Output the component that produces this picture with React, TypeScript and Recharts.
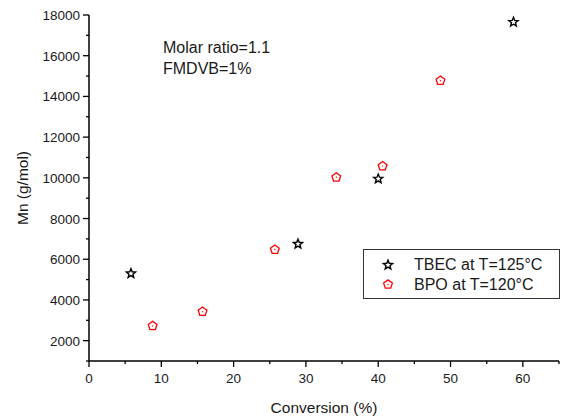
import { ScatterChart, Scatter, XAxis, YAxis } from "recharts";

// conversion (%) vs Mn (g/mol)
const TBEC_X = [5.8, 28.9, 40.0, 58.7];
const TBEC_Y = [5300, 6750, 9950, 17650];
const BPO_X = [8.8, 15.7, 25.7, 34.2, 40.6, 48.6];
const BPO_Y = [2750, 3450, 6500, 10050, 10600, 14800];

const X_TICKS = [0, 5, 10, 15, 20, 25, 30, 35, 40, 45, 50, 55, 60, 65];
const Y_TICKS = [1000, 2000, 3000, 4000, 5000, 6000, 7000, 8000, 9000, 10000, 11000, 12000, 13000, 14000, 15000, 16000, 17000, 18000];

const tbec = TBEC_X.map((x, i) => ({ x, y: TBEC_Y[i] }));
const bpo = BPO_X.map((x, i) => ({ x, y: BPO_Y[i] }));

const FONT = "'Liberation Sans', Arial, sans-serif";
const RED = "#ff0000";

const starPoints = (cx: number, cy: number, ro = 4.8, ri = 2.1) => {
  const pts: string[] = [];
  for (let k = 0; k < 10; k++) {
    const r = k % 2 === 0 ? ro : ri;
    const a = -Math.PI / 2 + (k * Math.PI) / 5;
    pts.push(`${cx + r * Math.cos(a)},${cy + r * Math.sin(a)}`);
  }
  return pts.join(" ");
};

const pentPoints = (cx: number, cy: number, r = 4.6) => {
  const pts: string[] = [];
  for (let k = 0; k < 5; k++) {
    const a = -Math.PI / 2 + (k * 2 * Math.PI) / 5;
    pts.push(`${cx + r * Math.cos(a)},${cy + 0.5 + r * Math.sin(a)}`);
  }
  return pts.join(" ");
};

const Star = (p: any) => (
  <polygon points={starPoints(p.cx, p.cy)} fill="#fff" stroke="#000" strokeWidth={1.4} />
);

const Pent = (p: any) => (
  <g>
    <polygon points={pentPoints(p.cx, p.cy)} fill="#fff" stroke={RED} strokeWidth={1.3} />
    <circle cx={p.cx} cy={p.cy + 0.5} r={0.7} fill={RED} />
  </g>
);

const XTick = (p: any) => {
  const v = p.payload.value;
  const major = v % 10 === 0;
  return (
    <g>
      <line x1={p.x} x2={p.x} y1={p.y} y2={p.y + (major ? 6 : 3)} stroke="#000" strokeWidth={1.3} />
      {major && (
        <text x={p.x} y={p.y + 22} textAnchor="middle" fontSize={13.5} fontFamily={FONT} fill="#1a1a1a">
          {v}
        </text>
      )}
    </g>
  );
};

const YTick = (p: any) => {
  const v = p.payload.value;
  const major = v % 2000 === 0;
  return (
    <g>
      <line x1={p.x} x2={p.x - (major ? 6 : 3)} y1={p.y} y2={p.y} stroke="#000" strokeWidth={1.3} />
      {major && (
        <text x={p.x - 9} y={p.y + 5} textAnchor="end" fontSize={13.5} fontFamily={FONT} fill="#1a1a1a">
          {v}
        </text>
      )}
    </g>
  );
};

const LegendBox = () => (
  <div
    style={{
      position: "absolute",
      left: 363,
      top: 249,
      border: "1px solid #333",
      background: "#fff",
      width: 197,
      height: 50,
      boxSizing: "border-box",
      fontFamily: FONT,
      fontSize: 16,
      color: "#1a1a1a",
    }}
  >
    <svg width={40} height={48} style={{ position: "absolute", left: 0, top: 0 }}>
      <polygon points={starPoints(24, 15)} fill="#fff" stroke="#000" strokeWidth={1.4} />
      <polygon points={pentPoints(24, 34)} fill="#fff" stroke={RED} strokeWidth={1.3} />
      <circle cx={24} cy={34.5} r={0.7} fill={RED} />
    </svg>
    <div style={{ position: "absolute", left: 50, top: 5, lineHeight: "20px" }}>TBEC at T=125°C</div>
    <div style={{ position: "absolute", left: 50, top: 25, lineHeight: "20px" }}>BPO at T=120°C</div>
  </div>
);

export default function App() {
  return (
    <div style={{ position: "absolute", left: 0, top: 0, width: 561, height: 419, background: "#fff" }}>
      <ScatterChart width={561} height={419} margin={{ top: 15, right: 2, bottom: 0, left: 0 }}>
        <XAxis
          type="number"
          dataKey="x"
          domain={[0, 65]}
          ticks={X_TICKS}
          interval={0}
          tickSize={0}
          tickMargin={0}
          tick={<XTick />}
          height={58}
          axisLine={{ stroke: "#000", strokeWidth: 1.5 }}
          label={{
            value: "Conversion (%)",
            position: "insideBottom",
            offset: 6,
            fontSize: 15.5,
            fontFamily: FONT,
            fill: "#1a1a1a",
          }}
        />
        <YAxis
          type="number"
          dataKey="y"
          domain={[1000, 18000]}
          ticks={Y_TICKS}
          interval={0}
          tickSize={0}
          tickMargin={0}
          tick={<YTick />}
          width={89}
          axisLine={{ stroke: "#000", strokeWidth: 1.5 }}
          label={{
            value: "Mn (g/mol)",
            angle: -90,
            position: "insideLeft",
            offset: 0,
            dx: 22,
            fontSize: 15.5,
            fontFamily: FONT,
            fill: "#1a1a1a",
            style: { textAnchor: "middle" },
          }}
        />
        <Scatter name="TBEC at T=125°C" data={tbec} shape={<Star />} isAnimationActive={false} />
        <Scatter name="BPO at T=120°C" data={bpo} shape={<Pent />} isAnimationActive={false} />
      </ScatterChart>
      <LegendBox />
      <div
        style={{
          position: "absolute",
          left: 163,
          top: 37,
          fontFamily: FONT,
          fontSize: 16,
          lineHeight: "21px",
          color: "#1a1a1a",
        }}
      >
        <div>Molar ratio=1.1</div>
        <div>FMDVB=1%</div>
      </div>
    </div>
  );
}
